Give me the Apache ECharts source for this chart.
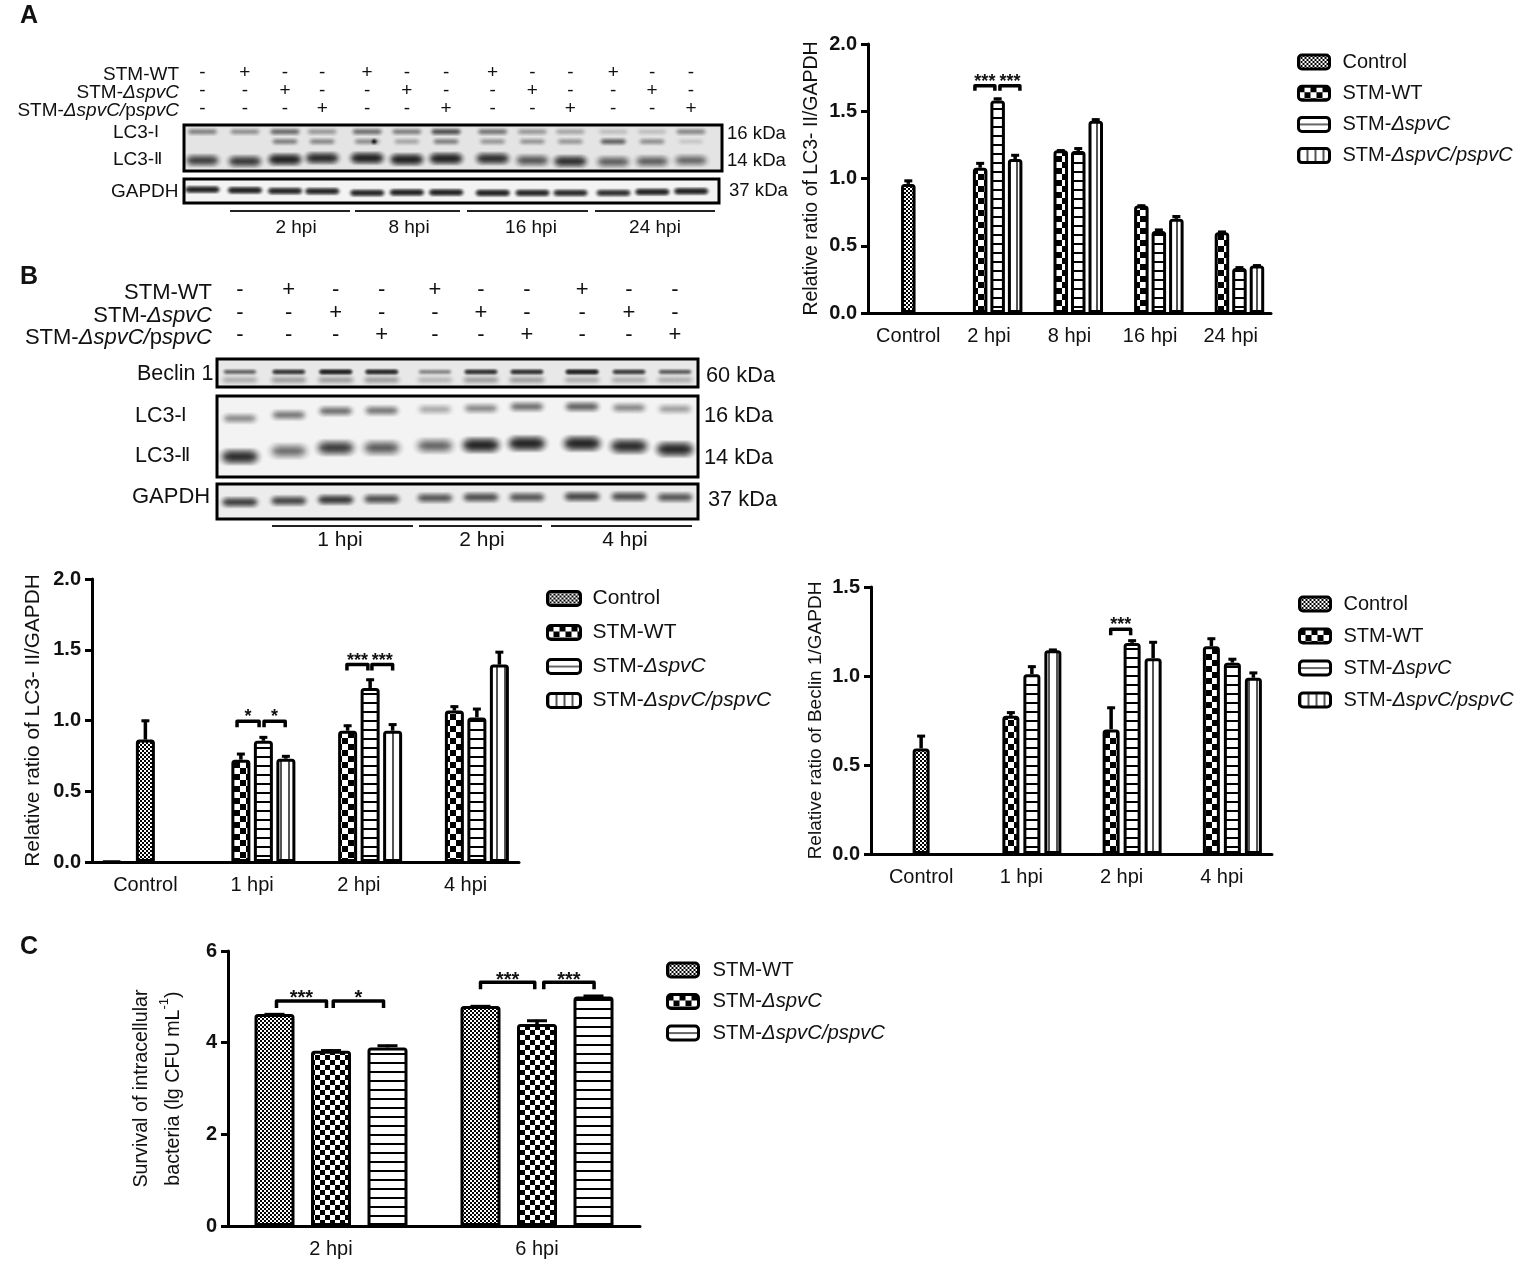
<!DOCTYPE html>
<html>
<head>
<meta charset="utf-8">
<title>LC3 and Beclin 1</title>
<script src="https://cdn.jsdelivr.net/npm/echarts@6/dist/echarts.min.js"></script>
<style>
html, body { margin: 0; padding: 0; background: #fff; }
#main { width: 1532px; height: 1282px; }
</style>
</head>
<body>
<div id="main"></div>
<script>
// panel A, bar chart
var aCats = ['Control', '2 hpi', '8 hpi', '16 hpi', '24 hpi'];
var aControl = [0.96, null, null, null, null];
var aControlErr = [0.99, null, null, null, null];
var aWT = [null, 1.08, 1.21, 0.80, 0.60];
var aWTErr = [null, 1.12, 1.215, 0.805, 0.61];
var aSpvC = [null, 1.58, 1.205, 0.61, 0.335];
var aSpvCErr = [null, 1.60, 1.23, 0.625, 0.345];
var aComp = [null, 1.145, 1.43, 0.70, 0.353];
var aCompErr = [null, 1.18, 1.445, 0.725, 0.36];
var aSig = [[1, 1.69, 0.7, 1.84, '***'], [1, 1.69, 2.13, 3.27, '***']];

// panel B, LC3-II chart
var bCats = ['Control', '1 hpi', '2 hpi', '4 hpi'];
var bControl = [0.865, null, null, null];
var bControlErr = [1.005, null, null, null];
var bEmpty = [0.01, null, null, null];
var bWT = [null, 0.723, 0.928, 1.07];
var bWTErr = [null, 0.77, 0.97, 1.105];
var bSpvC = [null, 0.857, 1.23, 1.022];
var bSpvCErr = [null, 0.888, 1.295, 1.088];
var bComp = [null, 0.73, 0.928, 1.395];
var bCompErr = [null, 0.754, 0.978, 1.49];
var bSig = [[1, 0.994, 0.83, 1.81, '*'], [1, 0.994, 2.03, 2.97, '*'], [2, 1.395, 0.97, 1.9, '***'], [2, 1.395, 2.08, 3.0, '***']];

// panel B, Beclin 1 chart
var beControl = [0.593, null, null, null];
var beControlErr = [0.668, null, null, null];
var beWT = [null, 0.776, 0.70, 1.167];
var beWTErr = [null, 0.80, 0.827, 1.215];
var beSpvC = [null, 1.01, 1.186, 1.075];
var beSpvCErr = [null, 1.058, 1.204, 1.10];
var beComp = [null, 1.145, 1.10, 0.99];
var beCompErr = [null, 1.152, 1.195, 1.023];
var beSig = [[2, 1.262, 0.98, 1.93, '***']];

// panel C
var cCats = ['2 hpi', '6 hpi'];
var cWT = [4.625, 4.80];
var cWTErr = [4.64, 4.815];
var cSpvC = [3.824, 4.406];
var cSpvCErr = [3.85, 4.50];
var cComp = [3.897, 5.01];
var cCompErr = [3.955, 5.04];
var cSig = [[0, 4.91, 0.035, 0.92, '***'], [0, 4.91, 1.04, 1.93, '*'], [1, 5.317, 0, 0.96, '***'], [1, 5.317, 1.12, 2.01, '***']];

// blot A: lane signs, band strength, band migration inside the box (0 top, 1 bottom)
var aRows = ['STM-WT', 'STM-ΔspvC', 'STM-ΔspvC/pspvC'];
var aLanes = [0, 1.04, 2.02, 2.93, 4.03, 5.0, 5.96, 7.1, 8.07, 9.0, 10.05, 11, 11.95];
var aSignWT = '-+--+--+--+--'.split('');
var aSignSpvC = '--+--+--+--+-'.split('');
var aSignComp = '---+--+--+--+'.split('');
var aLC3I = [0.3, 0.25, 0.4, 0.22, 0.38, 0.32, 0.55, 0.35, 0.22, 0.18, 0.1, 0.1, 0.28];
var aLC3Ilow = [0, 0, 0.32, 0.28, 0.25, 0.18, 0.32, 0.22, 0.24, 0.22, 0.45, 0.25, 0.08];
var aLC3II = [0.7, 0.75, 1, 0.9, 1, 1, 1, 0.85, 0.55, 0.85, 0.5, 0.5, 0.45];
var aLC3IIpos = [0.77, 0.79, 0.75, 0.72, 0.72, 0.75, 0.73, 0.73, 0.77, 0.79, 0.8, 0.79, 0.77];
var aGAPDH = [1, 1, 0.95, 0.95, 0.95, 1, 1, 1, 0.95, 0.9, 0.85, 1, 1];
var aGAPDHpos = [0.44, 0.47, 0.5, 0.51, 0.58, 0.56, 0.56, 0.58, 0.58, 0.58, 0.58, 0.54, 0.51];
var aSpeckLane = [4.2];
var aSpeck = [1];

// blot B
var bRows = aRows;
var bLanes = [0.06, 1.07, 2.04, 2.99, 4.09, 5.04, 5.99, 7.13, 8.1, 9.05];
var bSignWT = '-+--+--+--'.split('');
var bSignSpvC = '--+--+--+-'.split('');
var bSignComp = '---+--+--+'.split('');
var bBeclin = [0.45, 0.75, 1, 0.9, 0.3, 0.8, 0.8, 1, 0.7, 0.5];
var bBeclinSmear = [0.15, 0.2, 0.2, 0.2, 0.12, 0.2, 0.2, 0.15, 0.15, 0.15];
var bLC3I = [0.3, 0.38, 0.42, 0.38, 0.2, 0.32, 0.42, 0.48, 0.32, 0.24];
var bLC3Ipos = [0.277, 0.235, 0.186, 0.18, 0.165, 0.153, 0.132, 0.132, 0.145, 0.16];
var bLC3II = [0.9, 0.45, 0.75, 0.55, 0.5, 1, 1, 1, 0.9, 0.95];
var bLC3IIpos = [0.75, 0.68, 0.64, 0.64, 0.615, 0.607, 0.587, 0.587, 0.62, 0.657];
var bGAPDH = [0.7, 0.65, 0.75, 0.6, 0.55, 0.6, 0.55, 0.65, 0.6, 0.55];
var bGAPDHpos = [0.52, 0.48, 0.45, 0.43, 0.40, 0.38, 0.38, 0.36, 0.36, 0.38];

var FONT = '"Liberation Sans", Arial, sans-serif';
var INK = '#111';

// fill patterns of the bars
function pattern(w, h, draw) {
    var c = document.createElement('canvas');
    c.width = w;
    c.height = h;
    var g = c.getContext('2d');
    g.fillStyle = '#fff';
    g.fillRect(0, 0, w, h);
    g.fillStyle = '#000';
    draw(g);
    return { image: c, repeat: 'repeat' };
}
function checker(n) {
    return pattern(n * 2, n * 2, function (g) {
        g.fillRect(0, 0, n, n);
        g.fillRect(n, n, n, n);
    });
}
var fineCheck = checker(2);
var bigCheck = checker(6);
var hLines = pattern(4, 9, function (g) { g.fillRect(0, 0, 4, 2); });
var vLines = pattern(8, 4, function (g) { g.fillStyle = '#555'; g.fillRect(0, 0, 2, 4); });
// legend swatch with its one line through the middle (pattern origin is the legend item)
var midLine = pattern(4, 40, function (g) { g.fillStyle = '#666'; g.fillRect(0, 6, 4, 2); });

var grids = [], xAxes = [], yAxes = [], series = [], legends = [], graphics = [];

function addGrid(g, x, y) {
    grids.push(g);
    x.gridIndex = grids.length - 1;
    y.gridIndex = grids.length - 1;
    xAxes.push(x);
    yAxes.push(y);
    return { x: xAxes.length - 1, y: yAxes.length - 1 };
}

function errRender(offset, capWidth) {
    return function (params, api) {
        var top = api.coord([api.value(0), api.value(1)]);
        var base = api.coord([api.value(0), api.value(2)]);
        var x = top[0] + offset;
        return {
            type: 'group',
            children: [
                { type: 'line', shape: { x1: x, y1: base[1], x2: x, y2: top[1] }, style: { stroke: '#000', lineWidth: 3.5 } },
                { type: 'line', shape: { x1: x - capWidth / 2, y1: top[1] + 1, x2: x + capWidth / 2, y2: top[1] + 1 }, style: { stroke: '#000', lineWidth: 3 } }
            ]
        };
    };
}

function barChart(cfg) {
    var yFmt = function (v) { return cfg.interval < 1 ? v.toFixed(1) : String(v); };
    var main = addGrid(
        { left: cfg.left, top: cfg.top, width: cfg.width, height: cfg.height },
        {
            type: 'category', data: cfg.cats,
            axisLine: { lineStyle: { color: '#000', width: 3 } },
            axisTick: { alignWithLabel: true, length: 8, lineStyle: { color: '#000', width: 3 } },
            axisLabel: { color: INK, fontSize: 20, fontFamily: FONT, margin: 13, interval: 0 }
        },
        {
            type: 'value', min: 0, max: cfg.max, interval: cfg.interval,
            name: cfg.name, nameLocation: 'middle', nameGap: cfg.nameGap, nameRotate: 90,
            nameTextStyle: {
                color: INK, fontSize: cfg.nameSize, fontFamily: FONT, lineHeight: cfg.nameLine,
                rich: { sup: { fontSize: 13, fontFamily: FONT, color: INK, verticalAlign: 'top', lineHeight: cfg.nameLine } }
            },
            splitLine: { show: false },
            axisLine: { show: true, onZero: false, lineStyle: { color: '#000', width: 3 } },
            axisTick: { show: true, length: 7, lineStyle: { color: '#000', width: 3 } },
            axisLabel: { color: INK, fontSize: 20, fontWeight: 'bold', fontFamily: FONT, margin: 11, formatter: yFmt }
        }
    );
    // control bars sit right on the tick, so they get their own hidden axis
    xAxes.push({ type: 'category', data: cfg.cats, show: false, gridIndex: grids.length - 1 });
    var ctrlAxis = xAxes.length - 1;
    var gap = ((cfg.pitch - cfg.barWidth) / cfg.barWidth * 100) + '%';

    cfg.bars.forEach(function (b) {
        var onCtrl = b.slot === undefined;
        series.push({
            name: b.name, type: 'bar', data: b.values,
            xAxisIndex: onCtrl ? ctrlAxis : main.x, yAxisIndex: main.y,
            barWidth: cfg.barWidth, barGap: gap, z: 3, silent: true, animation: false,
            itemStyle: { color: b.fill, borderColor: '#000', borderWidth: b.thin ? 2 : 3, borderRadius: [2, 2, 0, 0] }
        });
        if (b.errs) {
            var offset = onCtrl ? 0 : (b.slot - (cfg.slots - 1) / 2) * cfg.pitch;
            var data = [];
            b.errs.forEach(function (e, i) {
                if (e !== null) data.push([i, e, b.values[i]]);
            });
            series.push({
                type: 'custom', data: data, xAxisIndex: main.x, yAxisIndex: main.y, z: 2, silent: true, animation: false,
                encode: { x: 0, y: 1 }, renderItem: errRender(offset, cfg.cap), clip: false
            });
        }
    });

    series.push({
        type: 'custom', data: cfg.sig.map(function (s) { return s.slice(0, 4); }),
        xAxisIndex: main.x, yAxisIndex: main.y, z: 4, silent: true, animation: false, clip: false,
        encode: { x: 0, y: 1 },
        renderItem: function (params, api) {
            var p = api.coord([api.value(0), api.value(1)]);
            var x0 = p[0] + (api.value(2) - (cfg.slots - 1) / 2) * cfg.pitch;
            var x1 = p[0] + (api.value(3) - (cfg.slots - 1) / 2) * cfg.pitch;
            return {
                type: 'group',
                children: [
                    {
                        type: 'polyline',
                        shape: { points: [[x0, p[1] + cfg.drop], [x0, p[1]], [x1, p[1]], [x1, p[1] + cfg.drop]] },
                        style: { stroke: '#000', fill: null, lineWidth: 3.5, lineJoin: 'round' }
                    },
                    {
                        type: 'text', x: (x0 + x1) / 2, y: p[1] + cfg.starShift,
                        style: {
                            text: cfg.sig[params.dataIndex][4], fill: INK, font: 'bold ' + cfg.starSize + 'px ' + FONT,
                            align: 'center', verticalAlign: 'bottom'
                        }
                    }
                ]
            };
        }
    });

    var legendSize = cfg.legend.size || 20;
    legends.push({
        left: cfg.legend.left, top: cfg.legend.top, orient: 'vertical', selectedMode: false, padding: 0,
        itemWidth: cfg.legend.iconWidth, itemHeight: 14, itemGap: cfg.legend.gap,
        textStyle: {
            color: INK, fontSize: legendSize, fontFamily: FONT, lineHeight: 20, padding: [0, 0, 0, cfg.legend.pad],
            rich: { i: { fontStyle: 'italic', fontSize: legendSize, fontFamily: FONT, color: INK, lineHeight: 20 } }
        },
        formatter: function (name) {
            return name.replace('ΔspvC/pspvC', '{i|ΔspvC/pspvC}').replace(/ΔspvC$/, '{i|ΔspvC}');
        },
        data: cfg.legend.items.map(function (it) {
            return { name: it[0], icon: 'roundRect', itemStyle: { color: it[1], borderColor: '#000', borderWidth: 3 } };
        })
    });
}

// one row of bands on a blot: a tight run of soft blobs along the lane, no hard edge
function bands(axes, lanes, strengths, positions, w, h) {
    var data = [];
    strengths.forEach(function (s, i) {
        if (s > 0) data.push([lanes[i], Array.isArray(positions) ? positions[i] : positions, s]);
    });
    series.push({
        type: 'custom', data: data, xAxisIndex: axes.x, yAxisIndex: axes.y, silent: true, animation: false,
        encode: { x: 0, y: 1 }, clip: true,
        renderItem: function (params, api) {
            var p = api.coord([api.value(0), api.value(1)]);
            var a = api.value(2);
            var n = Math.max(1, Math.round(w / (h * 0.2)));
            var k1 = n > 1 ? 0.38 : 1;
            var blobs = [];
            for (var k = 0; k < n; k++) {
                var x = n > 1 ? p[0] - w / 2 + w * k / (n - 1) : p[0];
                blobs.push({
                    type: 'circle',
                    shape: { cx: x, cy: p[1], r: h },
                    style: {
                        fill: {
                            type: 'radial', x: 0.5, y: 0.5, r: 0.5,
                            colorStops: [
                                { offset: 0, color: 'rgba(0,0,0,' + (a * k1) + ')' },
                                { offset: 0.5, color: 'rgba(0,0,0,' + (a * k1 * 0.4) + ')' },
                                { offset: 1, color: 'rgba(0,0,0,0)' }
                            ]
                        }
                    }
                });
            }
            return { type: 'group', children: blobs };
        }
    });
}

function blotBox(left, top, width, height, laneMin, laneMax, bg) {
    return addGrid(
        { show: true, left: left, top: top, width: width, height: height, backgroundColor: bg, borderColor: '#000', borderWidth: 3, z: 1 },
        { type: 'value', min: laneMin, max: laneMax, show: false },
        { type: 'value', min: 0, max: 1, inverse: true, show: false }
    );
}

function signRows(left, top, width, height, laneMin, laneMax, lanes, rows, signs, fontSize, labelDrop) {
    var axes = addGrid(
        { left: left, top: top, width: width, height: height },
        { type: 'value', min: laneMin, max: laneMax, show: false },
        {
            type: 'category', data: rows, inverse: true,
            axisLine: { show: false }, axisTick: { show: false },
            axisLabel: {
                color: INK, fontSize: fontSize, fontFamily: FONT, margin: 5, interval: 0, padding: [labelDrop, 0, 0, 0],
                formatter: function (v) {
                    return v.replace('ΔspvC/pspvC', '{i|ΔspvC/}p{i|spvC}').replace(/ΔspvC$/, '{i|ΔspvC}');
                },
                rich: { i: { fontStyle: 'italic', fontSize: fontSize, fontFamily: FONT, color: INK } }
            }
        }
    );
    var data = [], text = [];
    signs.forEach(function (row, r) {
        row.forEach(function (s, i) {
            data.push([lanes[i], r]);
            text.push(s);
        });
    });
    series.push({
        type: 'custom', data: data, xAxisIndex: axes.x, yAxisIndex: axes.y, silent: true, animation: false,
        encode: { x: 0, y: 1 }, clip: false,
        renderItem: function (params, api) {
            var p = api.coord([api.value(0), api.value(1)]);
            return {
                type: 'text', x: p[0], y: p[1],
                style: { text: text[params.dataIndex], fill: INK, font: fontSize + 'px ' + FONT, align: 'center', verticalAlign: 'middle' }
            };
        }
    });
}

function label(text, x, y, size, align, weight, family) {
    graphics.push({
        type: 'text', x: x, y: y, silent: true,
        style: {
            text: text, fill: INK, font: (weight ? weight + ' ' : '') + size + 'px ' + (family || FONT),
            textAlign: align || 'left', textVerticalAlign: 'middle'
        }
    });
}
function rule(x0, x1, y) {
    graphics.push({ type: 'line', silent: true, shape: { x1: x0, y1: y, x2: x1, y2: y }, style: { stroke: '#222', lineWidth: 2 } });
}

barChart({
    left: 868, top: 44, width: 403, height: 269, cats: aCats, max: 2, interval: 0.5,
    name: 'Relative ratio of LC3- II/GAPDH', nameGap: 46, nameSize: 19.5,
    slots: 4, pitch: 17.5, barWidth: 14.5, cap: 8, sig: aSig, drop: 5, starSize: 18, starShift: 5,
    bars: [
        { name: 'blank', values: [null, null, null, null, null], fill: '#fff', slot: 0 },
        { name: 'STM-WT', values: aWT, errs: aWTErr, fill: bigCheck, slot: 1 },
        { name: 'STM-ΔspvC', values: aSpvC, errs: aSpvCErr, fill: hLines, slot: 2 },
        { name: 'STM-ΔspvC/pspvC', values: aComp, errs: aCompErr, fill: vLines, slot: 3 },
        { name: 'Control', values: aControl, errs: aControlErr, fill: fineCheck }
    ],
    legend: {
        left: 1297, top: 52, iconWidth: 31, gap: 11.2, pad: 8,
        items: [['Control', fineCheck], ['STM-WT', bigCheck], ['STM-ΔspvC', midLine], ['STM-ΔspvC/pspvC', vLines]]
    }
});

barChart({
    left: 92, top: 579, width: 427, height: 283, cats: bCats, max: 2, interval: 0.5,
    name: 'Relative ratio of LC3- II/GAPDH', nameGap: 48, nameSize: 20.8,
    slots: 4, pitch: 22.5, barWidth: 19, cap: 8, sig: bSig, drop: 6, starSize: 18, starShift: 5,
    bars: [
        { name: 'blank', values: bEmpty, fill: '#fff', slot: 0, thin: true },
        { name: 'STM-WT', values: bWT, errs: bWTErr, fill: bigCheck, slot: 1 },
        { name: 'STM-ΔspvC', values: bSpvC, errs: bSpvCErr, fill: hLines, slot: 2 },
        { name: 'STM-ΔspvC/pspvC', values: bComp, errs: bCompErr, fill: vLines, slot: 3 },
        { name: 'Control', values: bControl, errs: bControlErr, fill: fineCheck }
    ],
    legend: {
        left: 546, top: 588, iconWidth: 33, gap: 13, pad: 7, size: 21,
        items: [['Control', fineCheck], ['STM-WT', bigCheck], ['STM-ΔspvC', midLine], ['STM-ΔspvC/pspvC', vLines]]
    }
});

barChart({
    left: 871, top: 587, width: 401, height: 267, cats: bCats, max: 1.5, interval: 0.5,
    name: 'Relative ratio of Beclin 1/GAPDH', nameGap: 46, nameSize: 19,
    slots: 4, pitch: 21, barWidth: 17, cap: 8, sig: beSig, drop: 6, starSize: 18, starShift: 5,
    bars: [
        { name: 'blank', values: [null, null, null, null], fill: '#fff', slot: 0 },
        { name: 'STM-WT', values: beWT, errs: beWTErr, fill: bigCheck, slot: 1 },
        { name: 'STM-ΔspvC', values: beSpvC, errs: beSpvCErr, fill: hLines, slot: 2 },
        { name: 'STM-ΔspvC/pspvC', values: beComp, errs: beCompErr, fill: vLines, slot: 3 },
        { name: 'Control', values: beControl, errs: beControlErr, fill: fineCheck }
    ],
    legend: {
        left: 1298, top: 594, iconWidth: 31, gap: 12, pad: 8,
        items: [['Control', fineCheck], ['STM-WT', bigCheck], ['STM-ΔspvC', midLine], ['STM-ΔspvC/pspvC', vLines]]
    }
});

barChart({
    left: 228, top: 951, width: 412, height: 275, cats: cCats, max: 6, interval: 2,
    name: 'Survival of intracellular\nbacteria (lg CFU mL{sup|-1})', nameGap: 38, nameSize: 19.7, nameLine: 32,
    slots: 3, pitch: 56.5, barWidth: 40, cap: 20, sig: cSig, drop: 7, starSize: 20, starShift: 8,
    bars: [
        { name: 'STM-WT', values: cWT, errs: cWTErr, fill: fineCheck, slot: 0 },
        { name: 'STM-ΔspvC', values: cSpvC, errs: cSpvCErr, fill: checker(5), slot: 1 },
        { name: 'STM-ΔspvC/pspvC', values: cComp, errs: cCompErr, fill: hLines, slot: 2 }
    ],
    legend: {
        left: 666, top: 960, iconWidth: 31, gap: 11.5, pad: 9, size: 20.3,
        items: [['STM-WT', fineCheck], ['STM-ΔspvC', bigCheck], ['STM-ΔspvC/pspvC', midLine]]
    }
});

// panel A blot
signRows(184, 64, 538, 54, -0.45, 12.71, aLanes, aRows, [aSignWT, aSignSpvC, aSignComp], 19, 4);
var aBox1 = blotBox(184, 125, 538, 46, -0.45, 12.71, '#e4e4e4');
bands(aBox1, aLanes, aLC3I, 0.146, 26, 5);
bands(aBox1, aLanes, aLC3Ilow, 0.36, 22, 5);
bands(aBox1, aLanes, aLC3II, aLC3IIpos, 26, 8);
bands(aBox1, aSpeckLane, aSpeck, 0.36, 0, 4);
var aBox2 = blotBox(184, 179, 535, 24, -0.45, 12.63, '#f3f3f3');
bands(aBox2, aLanes, aGAPDH, aGAPDHpos, 30, 5);

// panel B blot
signRows(217, 279, 481, 67, -0.413, 9.525, bLanes, bRows, [bSignWT, bSignSpvC, bSignComp], 22, 6);
var bBox1 = blotBox(217, 359, 481, 28, -0.413, 9.525, '#e8e8e8');
bands(bBox1, bLanes, bBeclin, 0.46, 30, 4);
bands(bBox1, bLanes, bBeclinSmear, 0.75, 32, 6);
var bBox2 = blotBox(217, 396, 481, 81, -0.413, 9.525, '#f3f3f3');
bands(bBox2, bLanes, bLC3I, bLC3Ipos, 28, 7);
bands(bBox2, bLanes, bLC3II, bLC3IIpos, 28, 10);
var bBox3 = blotBox(217, 484, 481, 35, -0.413, 9.525, '#ececec');
bands(bBox3, bLanes, bGAPDH, bGAPDHpos, 30, 7);

// panel letters and blot labels
label('A', 20, 16, 25, 'left', 'bold');
label('B', 20, 277, 25, 'left', 'bold');
label('C', 20, 947, 25, 'left', 'bold');

var SERIF = '"Liberation Serif", serif';
label('LC3-', 113, 133, 19);
label('Ⅰ', 154, 133, 17, 'left', null, SERIF);
label('LC3-', 113, 160, 19);
label('Ⅱ', 154, 160, 17, 'left', null, SERIF);
label('GAPDH', 111, 192, 19);
label('16 kDa', 727, 134, 18.6);
label('14 kDa', 727, 161, 18.6);
label('37 kDa', 729, 191, 18.6);
rule(230, 350, 211);
rule(355, 460, 211);
rule(467, 588, 211);
rule(595, 715, 211);
label('2 hpi', 296, 228, 19, 'center');
label('8 hpi', 409, 228, 19, 'center');
label('16 hpi', 531, 228, 19, 'center');
label('24 hpi', 655, 228, 19, 'center');

label('Beclin 1', 137, 374, 21.5);
label('LC3-', 135, 416, 21.5);
label('Ⅰ', 181, 416, 19, 'left', null, SERIF);
label('LC3-', 135, 456, 21.5);
label('Ⅱ', 181, 456, 19, 'left', null, SERIF);
label('GAPDH', 132, 497, 22);
label('60 kDa', 706, 376, 21.8);
label('16 kDa', 704, 416, 21.8);
label('14 kDa', 704, 458, 21.8);
label('37 kDa', 708, 500, 21.8);
rule(272, 413, 526);
rule(419, 542, 526);
rule(551, 692, 526);
label('1 hpi', 340, 540, 21, 'center');
label('2 hpi', 482, 540, 21, 'center');
label('4 hpi', 625, 540, 21, 'center');

var chart = echarts.init(document.getElementById('main'));
chart.setOption({
    backgroundColor: '#fff',
    animation: false,
    textStyle: { fontFamily: FONT },
    grid: grids,
    xAxis: xAxes,
    yAxis: yAxes,
    legend: legends,
    series: series,
    graphic: { elements: graphics }
});
</script>
</body>
</html>
